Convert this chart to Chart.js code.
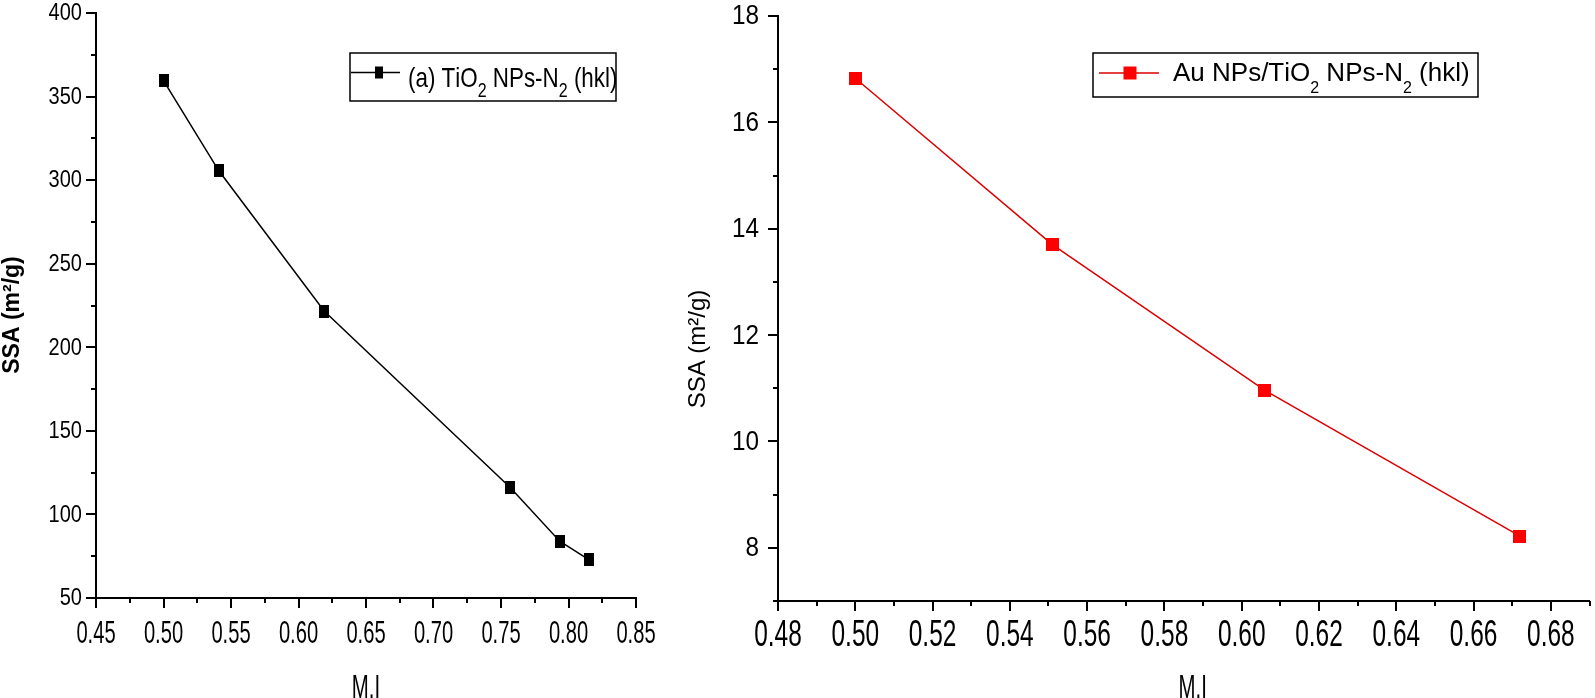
<!DOCTYPE html>
<html>
<head>
<meta charset="utf-8">
<script src="https://cdn.jsdelivr.net/npm/chart.js@4.4.1/dist/chart.umd.min.js"></script>
<style>
  html, body { margin: 0; padding: 0; background: #fff; }
  #wrap { position: relative; width: 1595px; height: 698px; overflow: hidden; }
  .panel { position: absolute; top: 0; height: 698px; }
  #panelA { left: 0; width: 700px; }
  #panelB { left: 650px; width: 945px; }
</style>
</head>
<body>
<div id="wrap">
  <div class="panel" id="panelA"><canvas id="chartA" width="700" height="698"></canvas></div>
  <div class="panel" id="panelB"><canvas id="chartB" width="945" height="698"></canvas></div>
</div>
<script>
// left panel: TiO2 NPs-N2
const tioMI  = [0.500, 0.541, 0.619, 0.757, 0.7935, 0.815];
const tioSSA = [359.5, 305.6, 221.7, 116.0, 84.0, 73.0];
const tioXLabels = ["0.45", "0.50", "0.55", "0.60", "0.65", "0.70", "0.75", "0.80", "0.85"];
const tioYLabels = [50, 100, 150, 200, 250, 300, 350, 400];

// right panel: Au NPs/TiO2 NPs-N2
const auMI  = [0.500, 0.551, 0.606, 0.672];
const auSSA = [16.83, 13.70, 10.96, 8.22];
const auXLabels = ["0.48", "0.50", "0.52", "0.54", "0.56", "0.58", "0.60", "0.62", "0.64", "0.66", "0.68"];
const auYLabels = [8, 10, 12, 14, 16, 18];

const FONT = "'Liberation Sans', Arial, sans-serif";

function marker(w, h, color) {
  const c = document.createElement('canvas');
  c.width = w; c.height = h;
  const g = c.getContext('2d');
  g.fillStyle = color;
  g.fillRect(0, 0, w, h);
  return c;
}

// text squeezed horizontally (the original uses a condensed face)
function squeezed(ctx, text, x, y, font, sq, align, base, rot) {
  ctx.save();
  ctx.translate(x, y);
  if (rot) ctx.rotate(rot);
  ctx.scale(sq, 1);
  ctx.font = font;
  ctx.fillStyle = '#000';
  ctx.textAlign = align;
  ctx.textBaseline = base;
  ctx.fillText(text, 0, 0);
  ctx.restore();
}

// tick marks, tick labels and axis titles, all placed from the chart's scales
const axisDeco = {
  id: 'axisDeco',
  afterDraw(chart, args, o) {
    const ctx = chart.ctx;
    const sx = chart.scales.x, sy = chart.scales.y;
    ctx.save();
    ctx.strokeStyle = '#000';
    ctx.lineWidth = 2;
    [sx, sy].forEach(s => {
      s.ticks.forEach((t, i) => {
        const len = t.label !== '' ? o.major : o.minor;
        const p = Math.round(s.getPixelForTick(i));
        ctx.beginPath();
        if (s.isHorizontal()) { ctx.moveTo(p, s.top); ctx.lineTo(p, s.top + len); }
        else { ctx.moveTo(s.right, p); ctx.lineTo(s.right - len, p); }
        ctx.stroke();
      });
    });
    ctx.restore();
    sx.ticks.forEach((t, i) => {
      if (t.label === '') return;
      squeezed(ctx, t.label, sx.getPixelForTick(i), sx.top + o.x.base, o.x.font, o.x.sq, 'center', 'alphabetic');
    });
    sy.ticks.forEach((t, i) => {
      if (t.label === '') return;
      squeezed(ctx, t.label, sy.right - o.y.gap, sy.getPixelForTick(i) + o.y.dy, o.y.font, o.y.sq, 'right', 'middle');
    });
    const xt = chart.options.scales.x.title.text;
    const cx = (chart.chartArea.left + chart.chartArea.right) / 2 + o.xTitle.dx;
    squeezed(ctx, xt, cx, o.xTitle.y, o.xTitle.font, o.xTitle.sq, 'center', 'alphabetic');
    const yt = chart.options.scales.y.title.text;
    squeezed(ctx, yt, o.yTitle.x, o.yTitle.y, o.yTitle.font, 1, 'center', 'middle', -Math.PI / 2);
  }
};

// boxed legend with real subscripts
const subMap = { '₀': '0', '₁': '1', '₂': '2', '₃': '3' };
const boxLegend = {
  id: 'boxLegend',
  afterDraw(chart, args, o) {
    const ctx = chart.ctx;
    const ds = chart.data.datasets[0];
    ctx.save();
    ctx.strokeStyle = '#000';
    ctx.lineWidth = 1.5;
    ctx.strokeRect(o.x, o.y, o.w, o.h);
    ctx.strokeStyle = ds.borderColor;
    ctx.lineWidth = ds.borderWidth;
    ctx.beginPath();
    ctx.moveTo(o.lineFrom, o.cy);
    ctx.lineTo(o.lineTo, o.cy);
    ctx.stroke();
    ctx.fillStyle = o.markColor;
    ctx.fillRect(o.markX - o.markW / 2, o.cy - o.markH / 2, o.markW, o.markH);
    ctx.translate(o.textX, o.baseline);
    ctx.scale(o.sq, 1);
    ctx.fillStyle = '#000';
    ctx.textBaseline = 'alphabetic';
    let x = 0;
    for (const ch of ds.label) {
      const sub = subMap[ch];
      ctx.font = sub ? o.subFont : o.font;
      const t = sub || ch;
      ctx.fillText(t, x, sub ? o.subDy : 0);
      x += ctx.measureText(t).width;
    }
    ctx.restore();
  }
};

function axis(min, max, step, fmt, pos) {
  return {
    type: 'linear',
    position: pos,
    min: min, max: max,
    grid: { display: true, drawOnChartArea: false, drawTicks: false },
    border: { display: true, color: '#000', width: 2 },
    ticks: { display: false, stepSize: step, autoSkip: false, includeBounds: false, callback: fmt }
  };
}

// ---- left chart ----
const xA = axis(0.45, 0.85, 0.025,
  v => tioXLabels.includes(v.toFixed(2)) && Math.abs(v * 20 - Math.round(v * 20)) < 1e-6 ? v.toFixed(2) : '', 'bottom');
xA.title = { display: false, text: 'M.I' };
xA.afterFit = s => { s.height = 100; };
const yA = axis(50, 400, 25, v => tioYLabels.includes(v) ? String(v) : '', 'left');
yA.title = { display: false, text: 'SSA (m²/g)' };
yA.afterFit = s => { s.width = 96; };

new Chart(document.getElementById('chartA'), {
  type: 'line',
  data: {
    datasets: [{
      label: '(a) TiO₂ NPs-N₂ (hkl)',
      data: tioMI.map((m, i) => ({ x: m, y: tioSSA[i] })),
      borderColor: '#000',
      borderWidth: 1.5,
      pointStyle: marker(10, 13, '#000'),
      tension: 0
    }]
  },
  options: {
    responsive: false,
    animation: false,
    layout: { padding: { top: 13, right: 64, left: 0, bottom: 0 } },
    scales: { x: xA, y: yA },
    plugins: {
      legend: { display: false },
      tooltip: { enabled: false },
      axisDeco: {
        major: 10, minor: 5,
        x: { font: '32px ' + FONT, sq: 0.63, base: 45 },
        y: { font: '23px ' + FONT, sq: 0.87, gap: 14, dy: 1 },
        xTitle: { y: 698, dx: 0, font: '34px ' + FONT, sq: 0.6 },
        yTitle: { x: 13, y: 315, font: 'bold 23px ' + FONT }
      },
      boxLegend: {
        x: 350, y: 53, w: 266, h: 48, cy: 72.5,
        lineFrom: 351, lineTo: 400, markX: 379, markW: 8, markH: 12, markColor: '#000',
        textX: 408, baseline: 87, sq: 0.8, font: '28px ' + FONT, subFont: '20px ' + FONT, subDy: 10
      }
    }
  },
  plugins: [axisDeco, boxLegend]
});

// ---- right chart ----
const xB = axis(0.48, 0.69, 0.01,
  v => auXLabels.includes(v.toFixed(2)) && Math.abs(v * 50 - Math.round(v * 50)) < 1e-6 ? v.toFixed(2) : '', 'bottom');
xB.title = { display: false, text: 'M.I' };
xB.afterFit = s => { s.height = 97; };
const yB = axis(7, 18, 1, v => auYLabels.includes(v) ? String(v) : '', 'left');
yB.title = { display: false, text: 'SSA (m²/g)' };
yB.afterFit = s => { s.width = 128; };

new Chart(document.getElementById('chartB'), {
  type: 'line',
  data: {
    datasets: [{
      label: 'Au NPs/TiO₂ NPs-N₂ (hkl)',
      data: auMI.map((m, i) => ({ x: m, y: auSSA[i] })),
      borderColor: '#dd0000',
      borderWidth: 1.5,
      pointStyle: marker(13, 13, '#ff0000'),
      tension: 0
    }]
  },
  options: {
    responsive: false,
    animation: false,
    layout: { padding: { top: 16, right: 1, left: 0, bottom: 0 } },
    scales: { x: xB, y: yB },
    plugins: {
      legend: { display: false },
      tooltip: { enabled: false },
      axisDeco: {
        major: 10, minor: 5,
        x: { font: '36px ' + FONT, sq: 0.68, base: 45 },
        y: { font: '27px ' + FONT, sq: 0.9, gap: 19, dy: 1 },
        xTitle: { y: 698, dx: 9, font: '34px ' + FONT, sq: 0.6 },
        yTitle: { x: 48, y: 349, font: '24px ' + FONT }
      },
      boxLegend: {
        x: 443, y: 53, w: 385, h: 44, cy: 73,
        lineFrom: 449, lineTo: 509, markX: 480, markW: 13, markH: 13, markColor: '#ff0000',
        textX: 523, baseline: 81, sq: 1, font: '26px ' + FONT, subFont: '16px ' + FONT, subDy: 12
      }
    }
  },
  plugins: [axisDeco, boxLegend]
});
</script>
</body>
</html>
